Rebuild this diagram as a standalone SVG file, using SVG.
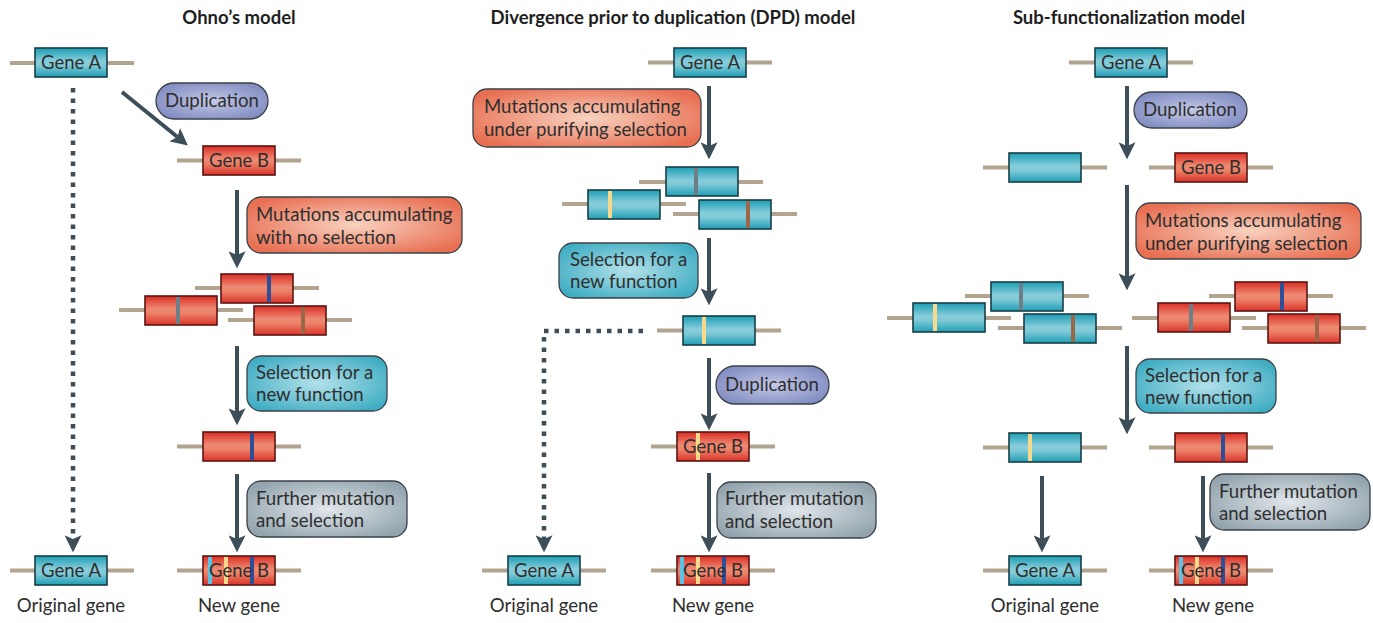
<svg xmlns="http://www.w3.org/2000/svg" width="1373" height="623" viewBox="0 0 1373 623">
<defs>
<linearGradient id="gBlue" x1="0" y1="0" x2="0" y2="1">
<stop offset="0" stop-color="#1c9db4"/><stop offset="0.45" stop-color="#88cddb"/><stop offset="0.6" stop-color="#7fc9d7"/><stop offset="1" stop-color="#1f9fb5"/>
</linearGradient>
<linearGradient id="gRed" x1="0" y1="0" x2="0" y2="1">
<stop offset="0" stop-color="#dc2e24"/><stop offset="0.45" stop-color="#ee8a72"/><stop offset="0.6" stop-color="#ec8169"/><stop offset="1" stop-color="#db3428"/>
</linearGradient>
<radialGradient id="lDup" cx="0.5" cy="0.5" r="0.6">
<stop offset="0" stop-color="#c3c9e6"/><stop offset="1" stop-color="#7f8ac0"/>
</radialGradient>
<radialGradient id="lMut" cx="0.5" cy="0.5" r="0.6">
<stop offset="0" stop-color="#f8d2c0"/><stop offset="1" stop-color="#e86f52"/>
</radialGradient>
<radialGradient id="lSel" cx="0.5" cy="0.5" r="0.6">
<stop offset="0" stop-color="#b3e1ea"/><stop offset="1" stop-color="#40adc3"/>
</radialGradient>
<radialGradient id="lFur" cx="0.5" cy="0.5" r="0.6">
<stop offset="0" stop-color="#e1e7eb"/><stop offset="1" stop-color="#93a4ae"/>
</radialGradient>
<marker id="ah" markerUnits="userSpaceOnUse" markerWidth="17" markerHeight="17" viewBox="0 0 14 14" refX="3" refY="7" orient="auto">
<path d="M0,0 L14,7 L0,14 L3,7 z" fill="#3d4e59"/>
</marker>
<style>
text{font-family:Lato,"Open Sans","Liberation Sans",sans-serif;fill:#2e2e2e}
.t{font-size:18.5px;font-weight:bold;text-anchor:middle;fill:#1e1e1e}
.g{font-size:18.5px;text-anchor:middle}
.l{font-size:18.6px}
.c{text-anchor:middle}
.ax{stroke:#b3a48f;stroke-width:4}
.bb{fill:url(#gBlue)}
.rb{fill:url(#gRed)}
.bo{fill:none;stroke:#173f48;stroke-width:1.6}
.ro{fill:none;stroke:#5c1515;stroke-width:1.6}
.arr{stroke:#3d4e59;stroke-width:4;fill:none;marker-end:url(#ah)}
.dot{stroke:#3d4e59;stroke-width:4.5;fill:none;stroke-dasharray:4.5 6;marker-end:url(#ah)}
.lb{stroke:#3b4148;stroke-width:1.3}
.sGray{fill:#6e7e88}.sYel{fill:#f6d98c}.sBrn{fill:#9a6848}.sDb{fill:#2d4f98}.sLb{fill:#5bc4e6}
</style>
</defs>

<g id="titles">
<text class="t" x="239" y="24">Ohno’s model</text>
<text class="t" x="673" y="24">Divergence prior to duplication (DPD) model</text>
<text class="t" x="1129" y="24">Sub-functionalization model</text>
</g>

<g id="connectors">
<!-- Ohno -->
<path class="dot" d="M73,88 V539"/>
<path class="arr" d="M122,92 L177.5,137"/>
<path class="arr" d="M237,190 V255"/>
<path class="arr" d="M237,346 V412"/>
<path class="arr" d="M237,474 V539"/>
<!-- DPD -->
<path class="arr" d="M709,86 V146"/>
<path class="arr" d="M709,238 V292"/>
<path class="dot" d="M643,331 H544 V539"/>
<path class="arr" d="M709,358 V417"/>
<path class="arr" d="M709,473 V539"/>
<!-- Sub -->
<path class="arr" d="M1127,86 V146"/>
<path class="arr" d="M1127,185 V277"/>
<path class="arr" d="M1127,346 V421"/>
<path class="arr" d="M1042,476 V539"/>
<path class="arr" d="M1203,476 V539"/>
</g>

<!-- ===== Ohno's model ===== -->
<g id="ohno-geneA" transform="translate(35,48)">
<line class="ax" x1="-25" y1="15" x2="99" y2="15"/>
<rect class="bb" width="72" height="29"/><rect class="bo" width="72" height="29"/>
<text class="g" x="36" y="21">Gene A</text>
</g>
<g id="ohno-dup-label">
<rect class="lb" x="156" y="83" width="112" height="36" rx="18" fill="url(#lDup)"/>
<text class="l c" x="212" y="107">Duplication</text>
</g>
<g id="ohno-geneB" transform="translate(203,146)">
<line class="ax" x1="-26" y1="14.5" x2="98" y2="14.5"/>
<rect class="rb" width="72" height="29"/><rect class="ro" width="72" height="29"/>
<text class="g" x="36" y="21">Gene B</text>
</g>
<g id="ohno-mut-label">
<rect class="lb" x="247" y="197" width="215" height="56" rx="14" fill="url(#lMut)"/>
<text class="l" x="256" y="221">Mutations accumulating</text>
<text class="l" x="256" y="244">with no selection</text>
</g>
<g id="ohno-cluster">
<line class="ax" x1="195" y1="288" x2="319" y2="288"/>
<rect class="rb" x="221" y="274" width="72" height="29"/><rect class="sDb" x="267" y="275" width="4" height="27"/><rect class="ro" x="221" y="274" width="72" height="29"/>
<line class="ax" x1="119" y1="310" x2="243" y2="310"/>
<rect class="rb" x="145" y="296" width="72" height="29"/><rect class="sGray" x="176" y="297" width="4" height="27"/><rect class="ro" x="145" y="296" width="72" height="29"/>
<line class="ax" x1="228" y1="320" x2="352" y2="320"/>
<rect class="rb" x="254" y="306" width="72" height="29"/><rect class="sBrn" x="301" y="307" width="4" height="27"/><rect class="ro" x="254" y="306" width="72" height="29"/>
</g>
<g id="ohno-sel-label">
<rect class="lb" x="247" y="356" width="140" height="55" rx="14" fill="url(#lSel)"/>
<text class="l" x="256" y="379">Selection for a</text>
<text class="l" x="256" y="401">new function</text>
</g>
<g id="ohno-gene-sel" transform="translate(203,432)">
<line class="ax" x1="-26" y1="14.5" x2="98" y2="14.5"/>
<rect class="rb" width="72" height="29"/><rect class="sDb" x="47" y="1" width="4" height="27"/><rect class="ro" width="72" height="29"/>
</g>
<g id="ohno-fur-label">
<rect class="lb" x="247" y="481" width="160" height="56" rx="14" fill="url(#lFur)"/>
<text class="l" x="256" y="505">Further mutation</text>
<text class="l" x="256" y="527">and selection</text>
</g>
<g id="ohno-final-A" transform="translate(35,556)">
<line class="ax" x1="-25" y1="14.5" x2="99" y2="14.5"/>
<rect class="bb" width="72" height="29"/><rect class="bo" width="72" height="29"/>
<text class="g" x="36" y="21">Gene A</text>
</g>
<g id="ohno-final-B" transform="translate(203,556)">
<line class="ax" x1="-26" y1="14.5" x2="98" y2="14.5"/>
<rect class="rb" width="72" height="29"/>
<rect class="sLb" x="5" y="1" width="4" height="27"/><rect class="sYel" x="21" y="1" width="4" height="27"/><rect class="sDb" x="47" y="1" width="4" height="27"/>
<rect class="ro" width="72" height="29"/>
<text class="g" x="36" y="21">Gene B</text>
</g>
<g id="ohno-captions">
<text class="l c" x="71" y="612">Original gene</text>
<text class="l c" x="239" y="612">New gene</text>
</g>

<!-- ===== DPD model ===== -->
<g id="dpd-geneA" transform="translate(674,48)">
<line class="ax" x1="-26" y1="14.5" x2="98" y2="14.5"/>
<rect class="bb" width="72" height="29"/><rect class="bo" width="72" height="29"/>
<text class="g" x="36" y="21">Gene A</text>
</g>
<g id="dpd-mut-label">
<rect class="lb" x="473" y="89" width="228" height="58" rx="14" fill="url(#lMut)"/>
<text class="l" x="484" y="113">Mutations accumulating</text>
<text class="l" x="484" y="136">under purifying selection</text>
</g>
<g id="dpd-cluster">
<line class="ax" x1="639" y1="182" x2="763" y2="182"/>
<rect class="bb" x="666" y="167" width="72" height="29"/><rect class="sGray" x="694" y="168" width="4" height="27"/><rect class="bo" x="666" y="167" width="72" height="29"/>
<line class="ax" x1="562" y1="204" x2="686" y2="204"/>
<rect class="bb" x="588" y="190" width="72" height="29"/><rect class="sYel" x="608" y="191" width="4" height="27"/><rect class="bo" x="588" y="190" width="72" height="29"/>
<line class="ax" x1="673" y1="214" x2="797" y2="214"/>
<rect class="bb" x="699" y="200" width="72" height="29"/><rect class="sBrn" x="746" y="201" width="4" height="27"/><rect class="bo" x="699" y="200" width="72" height="29"/>
</g>
<g id="dpd-sel-label">
<rect class="lb" x="559" y="243" width="139" height="55" rx="14" fill="url(#lSel)"/>
<text class="l" x="570" y="266">Selection for a</text>
<text class="l" x="570" y="288">new function</text>
</g>
<g id="dpd-gene-sel" transform="translate(683,316)">
<line class="ax" x1="-26" y1="14.5" x2="98" y2="14.5"/>
<rect class="bb" width="72" height="29"/><rect class="sYel" x="19" y="1" width="4" height="27"/><rect class="bo" width="72" height="29"/>
</g>
<g id="dpd-dup-label">
<rect class="lb" x="716" y="366" width="113" height="38" rx="19" fill="url(#lDup)"/>
<text class="l c" x="772" y="391">Duplication</text>
</g>
<g id="dpd-geneB" transform="translate(677,432)">
<line class="ax" x1="-26" y1="14.5" x2="98" y2="14.5"/>
<rect class="rb" width="72" height="29"/><rect class="sYel" x="19" y="1" width="4" height="27"/><rect class="ro" width="72" height="29"/>
<text class="g" x="36" y="21">Gene B</text>
</g>
<g id="dpd-fur-label">
<rect class="lb" x="717" y="482" width="159" height="56" rx="14" fill="url(#lFur)"/>
<text class="l" x="725" y="505">Further mutation</text>
<text class="l" x="725" y="528">and selection</text>
</g>
<g id="dpd-final-A" transform="translate(508,556)">
<line class="ax" x1="-26" y1="14.5" x2="98" y2="14.5"/>
<rect class="bb" width="72" height="29"/><rect class="bo" width="72" height="29"/>
<text class="g" x="36" y="21">Gene A</text>
</g>
<g id="dpd-final-B" transform="translate(677,556)">
<line class="ax" x1="-26" y1="14.5" x2="98" y2="14.5"/>
<rect class="rb" width="72" height="29"/>
<rect class="sLb" x="3" y="1" width="4" height="27"/><rect class="sYel" x="19" y="1" width="4" height="27"/><rect class="sDb" x="45" y="1" width="4" height="27"/>
<rect class="ro" width="72" height="29"/>
<text class="g" x="36" y="21">Gene B</text>
</g>
<g id="dpd-captions">
<text class="l c" x="544" y="612">Original gene</text>
<text class="l c" x="713" y="612">New gene</text>
</g>

<!-- ===== Sub-functionalization model ===== -->
<g id="sub-geneA" transform="translate(1095,48)">
<line class="ax" x1="-26" y1="14.5" x2="98" y2="14.5"/>
<rect class="bb" width="72" height="29"/><rect class="bo" width="72" height="29"/>
<text class="g" x="36" y="21">Gene A</text>
</g>
<g id="sub-dup-label">
<rect class="lb" x="1134" y="92" width="113" height="36" rx="18" fill="url(#lDup)"/>
<text class="l c" x="1190" y="116">Duplication</text>
</g>
<g id="sub-copyA" transform="translate(1009,153)">
<line class="ax" x1="-26" y1="14.5" x2="98" y2="14.5"/>
<rect class="bb" width="72" height="29"/><rect class="bo" width="72" height="29"/>
</g>
<g id="sub-geneB" transform="translate(1175,153)">
<line class="ax" x1="-26" y1="14.5" x2="98" y2="14.5"/>
<rect class="rb" width="72" height="29"/><rect class="ro" width="72" height="29"/>
<text class="g" x="36" y="21">Gene B</text>
</g>
<g id="sub-mut-label">
<rect class="lb" x="1136" y="203" width="225" height="56" rx="14" fill="url(#lMut)"/>
<text class="l" x="1145" y="227">Mutations accumulating</text>
<text class="l" x="1145" y="250">under purifying selection</text>
</g>
<g id="sub-cluster-blue">
<line class="ax" x1="965" y1="296" x2="1089" y2="296"/>
<rect class="bb" x="991" y="282" width="72" height="29"/><rect class="sGray" x="1019" y="283" width="4" height="27"/><rect class="bo" x="991" y="282" width="72" height="29"/>
<line class="ax" x1="887" y1="318" x2="1011" y2="318"/>
<rect class="bb" x="913" y="303" width="72" height="29"/><rect class="sYel" x="933" y="304" width="4" height="27"/><rect class="bo" x="913" y="303" width="72" height="29"/>
<line class="ax" x1="998" y1="328" x2="1122" y2="328"/>
<rect class="bb" x="1024" y="314" width="72" height="29"/><rect class="sBrn" x="1071" y="315" width="4" height="27"/><rect class="bo" x="1024" y="314" width="72" height="29"/>
</g>
<g id="sub-cluster-red">
<line class="ax" x1="1209" y1="296" x2="1333" y2="296"/>
<rect class="rb" x="1235" y="282" width="72" height="29"/><rect class="sDb" x="1280" y="283" width="4" height="27"/><rect class="ro" x="1235" y="282" width="72" height="29"/>
<line class="ax" x1="1132" y1="318" x2="1256" y2="318"/>
<rect class="rb" x="1158" y="303" width="72" height="29"/><rect class="sGray" x="1189" y="304" width="4" height="27"/><rect class="ro" x="1158" y="303" width="72" height="29"/>
<line class="ax" x1="1242" y1="328" x2="1366" y2="328"/>
<rect class="rb" x="1268" y="314" width="72" height="29"/><rect class="sBrn" x="1315" y="315" width="4" height="27"/><rect class="ro" x="1268" y="314" width="72" height="29"/>
</g>
<g id="sub-sel-label">
<rect class="lb" x="1136" y="359" width="140" height="54" rx="14" fill="url(#lSel)"/>
<text class="l" x="1145" y="382">Selection for a</text>
<text class="l" x="1145" y="404">new function</text>
</g>
<g id="sub-sel-blue" transform="translate(1009,433)">
<line class="ax" x1="-26" y1="14.5" x2="98" y2="14.5"/>
<rect class="bb" width="72" height="29"/><rect class="sYel" x="19" y="1" width="4" height="27"/><rect class="bo" width="72" height="29"/>
</g>
<g id="sub-sel-red" transform="translate(1175,433)">
<line class="ax" x1="-26" y1="14.5" x2="98" y2="14.5"/>
<rect class="rb" width="72" height="29"/><rect class="sDb" x="46" y="1" width="4" height="27"/><rect class="ro" width="72" height="29"/>
</g>
<g id="sub-fur-label">
<rect class="lb" x="1210" y="474" width="160" height="56" rx="14" fill="url(#lFur)"/>
<text class="l" x="1219" y="498">Further mutation</text>
<text class="l" x="1219" y="520">and selection</text>
</g>
<g id="sub-final-A" transform="translate(1009,556)">
<line class="ax" x1="-26" y1="14.5" x2="98" y2="14.5"/>
<rect class="bb" width="72" height="29"/><rect class="bo" width="72" height="29"/>
<text class="g" x="36" y="21">Gene A</text>
</g>
<g id="sub-final-B" transform="translate(1175,556)">
<line class="ax" x1="-26" y1="14.5" x2="98" y2="14.5"/>
<rect class="rb" width="72" height="29"/>
<rect class="sLb" x="4" y="1" width="4" height="27"/><rect class="sYel" x="20" y="1" width="4" height="27"/><rect class="sDb" x="46" y="1" width="4" height="27"/>
<rect class="ro" width="72" height="29"/>
<text class="g" x="36" y="21">Gene B</text>
</g>
<g id="sub-captions">
<text class="l c" x="1045" y="612">Original gene</text>
<text class="l c" x="1213" y="612">New gene</text>
</g>
</svg>
